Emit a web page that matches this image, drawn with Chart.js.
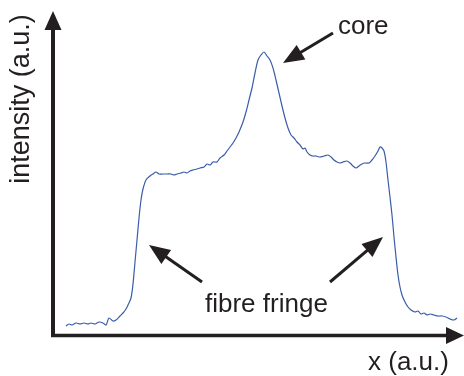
<!DOCTYPE html>
<html>
<head>
<meta charset="utf-8">
<script src="https://cdn.jsdelivr.net/npm/chart.js@4"></script>
<style>
  body { margin: 0; background: #fff; }
  canvas { display: block; }
</style>
</head>
<body>
<canvas id="canvas_profile" width="464" height="376"></canvas>
<script>
// intensity profile across the fibre (arbitrary units)
const pos_x = [13,16,19,23,27,31,35,38,42,46,50,53,56,60,63,67,70,73,75,78,80,82,84,86,88,90,93,97,100,103,106,110,114,118,121,124,128,131,134,137,140,144,147,151,154,157,160,164,167,171,174,177,180,183,186,190,193,196,199,202,205,208,211,214,217,220,223,226,229,232,235,238,241,244,247,250,252,254,257,260,263,267,271,275,278,281,284,287,290,294,297,300,303,306,309,312,316,319,322,325,327,329,331,333,335,337,339,341,343,345,347,349,352,355,358,362,365,368,371,374,377,381,385,389,393,397,401,404];
const intensity = [9,11,10,12,11,12,11,12,11,13,12,10,17,14,15,19,22,26,30,37,51,73,95,117,135,146,155,159,161,163,161,161,161,161,160,161,162,163,162,164,165,166,167,168,171,170,173,173,177,180,184,188,192,197,203,213,223,235,247,262,275,280,283,279,275,267,255,242,229,217,207,200,197,193,190,186,187,183,180,179,179,178,179,180,178,175,173,172,173,174,172,169,167,169,171,172,172,175,179,184,188,187,184,173,155,138,120,98,78,60,48,40,33,28,25,23,24,21,22,20,21,20,19,19,18,16,15,17];

const x_range = [0, 411];
const y_range = [0, 324];

// annotations: [text, text x, text baseline y, arrow tail x, tail y, tip x, tip y]
const notes = [
  ['core', 285, 301, 280, 302, 230, 272],
  ['fibre fringe', 152, 23, 149, 53, 96, 90],
  ['', 0, 0, 277, 53, 330, 98],
];
const x_title = 'x (a.u.)';
const y_title = 'intensity (a.u.)';

const ink = '#231f20';
const font = '26px "Liberation Sans", Arial, sans-serif';

function arrowHead(ctx, x1, y1, x2, y2, len, half) {
  const a = Math.atan2(y2 - y1, x2 - x1);
  ctx.beginPath();
  ctx.moveTo(x2, y2);
  ctx.lineTo(x2 - len * Math.cos(a) + half * Math.sin(a), y2 - len * Math.sin(a) - half * Math.cos(a));
  ctx.lineTo(x2 - len * Math.cos(a) - half * Math.sin(a), y2 - len * Math.sin(a) + half * Math.cos(a));
  ctx.closePath();
  ctx.fill();
}

const drawExtras = {
  id: 'drawExtras',
  afterDatasetsDraw(chart) {
    const ctx = chart.ctx;
    const xs = chart.scales.x, ys = chart.scales.y;
    const area = chart.chartArea;
    ctx.save();
    ctx.fillStyle = ink;
    ctx.strokeStyle = ink;

    // y axis with arrow
    ctx.lineWidth = 4;
    ctx.beginPath();
    ctx.moveTo(area.left, area.bottom + 1);
    ctx.lineTo(area.left, area.top + 16);
    ctx.stroke();
    arrowHead(ctx, area.left, area.bottom, area.left, area.top, 19, 8.5);

    // x axis with arrow
    ctx.lineWidth = 3.5;
    ctx.beginPath();
    ctx.moveTo(area.left - 2, area.bottom + 0.5);
    ctx.lineTo(area.right - 16, area.bottom + 0.5);
    ctx.stroke();
    arrowHead(ctx, area.left, area.bottom + 0.5, area.right, area.bottom + 0.5, 18, 8.5);

    // annotation arrows and labels
    ctx.font = font;
    ctx.textBaseline = 'alphabetic';
    ctx.textAlign = 'left';
    notes.forEach(n => {
      const x1 = xs.getPixelForValue(n[3]), y1 = ys.getPixelForValue(n[4]);
      const x2 = xs.getPixelForValue(n[5]), y2 = ys.getPixelForValue(n[6]);
      const a = Math.atan2(y2 - y1, x2 - x1);
      ctx.lineWidth = 3;
      ctx.beginPath();
      ctx.moveTo(x1, y1);
      ctx.lineTo(x2 - 14 * Math.cos(a), y2 - 14 * Math.sin(a));
      ctx.stroke();
      arrowHead(ctx, x1, y1, x2, y2, 21, 8.5);
      if (n[0]) ctx.fillText(n[0], xs.getPixelForValue(n[1]), ys.getPixelForValue(n[2]));
    });

    // axis titles
    ctx.fillText(x_title, 368, area.bottom + 35);
    ctx.save();
    ctx.translate(29, 99);
    ctx.rotate(-Math.PI / 2);
    ctx.textAlign = 'center';
    ctx.font = '27px "Liberation Sans", Arial, sans-serif';
    ctx.fillText(y_title, 0, 0);
    ctx.restore();

    ctx.restore();
  }
};

const data_profile = {
  datasets: [{
    data: pos_x.map((x, i) => ({ x: x, y: intensity[i] })),
    borderColor: '#3a5daa',
    borderWidth: 1.2,
    pointRadius: 0,
    tension: 0.3,
    fill: false,
  }]
};

const config_profile = {
  type: 'line',
  data: data_profile,
  options: {
    responsive: false,
    animation: false,
    layout: { padding: { left: 53, top: 11, right: 0, bottom: 41 } },
    plugins: { legend: { display: false }, tooltip: { enabled: false } },
    scales: {
      x: { type: 'linear', min: x_range[0], max: x_range[1], display: false },
      y: { min: y_range[0], max: y_range[1], display: false },
    },
  },
  plugins: [drawExtras],
};

const canvas_profile = document.getElementById('canvas_profile');
const chart_profile = new Chart(canvas_profile, config_profile);
</script>
</body>
</html>
